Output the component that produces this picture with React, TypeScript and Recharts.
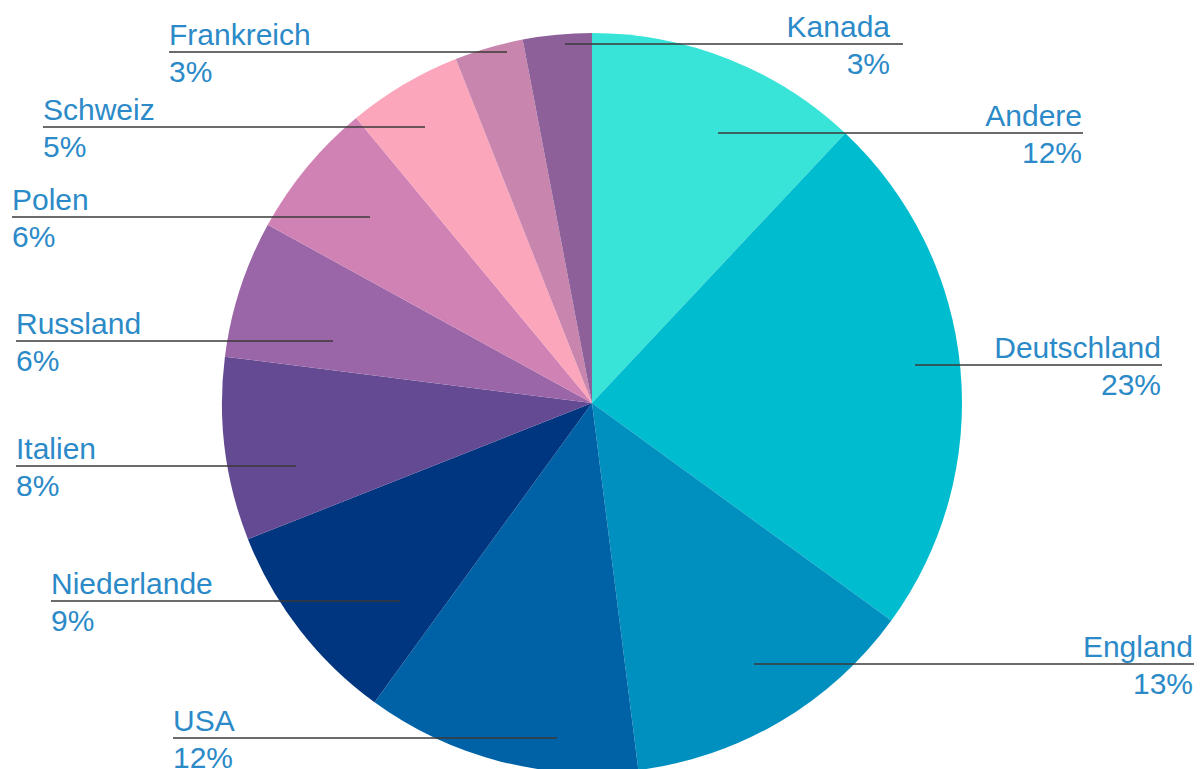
import { Cell, Pie, PieChart } from "recharts";

const COUNTRIES = ["Andere", "Deutschland", "England", "USA", "Niederlande", "Italien", "Russland", "Polen", "Schweiz", "Frankreich", "Kanada"];
const SHARES = [12, 23, 13, 12, 9, 8, 6, 6, 5, 3, 3];
const COLORS = ["#38e3d8", "#00bccf", "#0090bf", "#0062a6", "#00357f", "#634a93", "#9a66a7", "#d182b4", "#fba6bb", "#c886ae", "#8d609a"];

// leader-line layout per label: side, line y, inner x (in slice), outer x, text edge x
const LABEL_SIDE = ["right", "right", "right", "left", "left", "left", "left", "left", "left", "left", "right"];
const LABEL_Y = [133, 365, 664, 738, 601, 466, 341, 217, 127, 52, 44];
const LABEL_INNER_X = [718, 915, 754, 557, 400, 296, 333, 370, 425, 507, 565];
const LABEL_OUTER_X = [1083, 1162, 1194, 173, 51, 16, 16, 12, 43, 169, 903];
const LABEL_TEXT_X = [1082, 1161, 1193, 173, 51, 16, 16, 12, 43, 169, 890];

const data = COUNTRIES.map((name, i) => ({ name, value: SHARES[i] }));

const TEXT_COLOR = "#2b8ac7";
const FONT = "'Liberation Sans', Arial, Helvetica, sans-serif";

function renderLabel(props: any) {
  const i = props.index;
  const side = LABEL_SIDE[i];
  const y = LABEL_Y[i];
  const anchor = side === "right" ? "end" : "start";
  const textX = LABEL_TEXT_X[i];
  return (
    <g key={`lbl-${i}`}>
      <line x1={LABEL_INNER_X[i]} y1={y} x2={LABEL_OUTER_X[i]} y2={y} stroke="#3a3a3a" strokeWidth={1.5} />
      <text x={textX} y={y - 7} textAnchor={anchor} fill={TEXT_COLOR} fontSize={30} fontFamily={FONT}>
        {props.name}
      </text>
      <text x={textX} y={y + 30} textAnchor={anchor} fill={TEXT_COLOR} fontSize={30} fontFamily={FONT}>
        {`${props.value}%`}
      </text>
    </g>
  );
}

export default function App() {
  return (
    <div style={{ position: "fixed", left: 0, top: 0, width: 1202, height: 769, background: "#fff" }}>
      <PieChart width={1202} height={769} margin={{ top: 0, right: 0, bottom: 0, left: 0 }}>
        <Pie
          data={data}
          dataKey="value"
          nameKey="name"
          cx={592}
          cy={403}
          outerRadius={370}
          startAngle={90}
          endAngle={-270}
          stroke="none"
          label={renderLabel}
          labelLine={false}
          isAnimationActive={false}
        >
          {data.map((d, i) => (
            <Cell key={d.name} fill={COLORS[i]} />
          ))}
        </Pie>
      </PieChart>
    </div>
  );
}
